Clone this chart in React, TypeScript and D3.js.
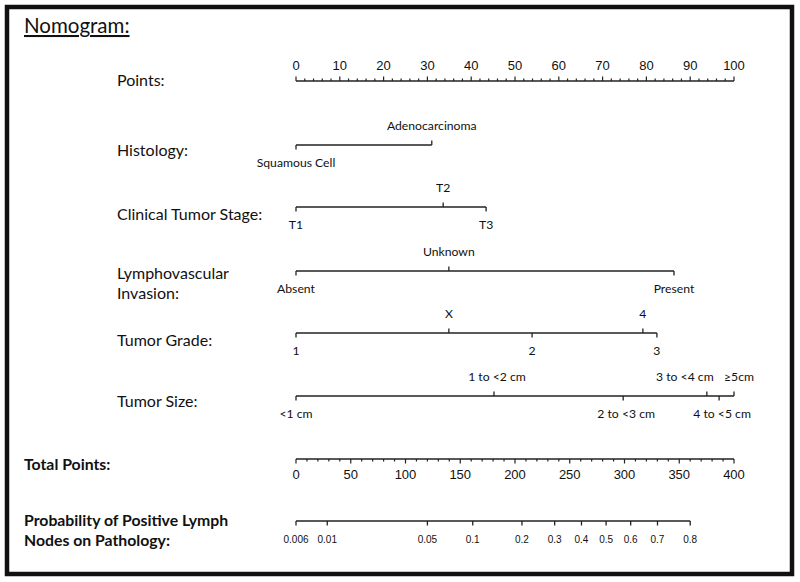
import * as d3 from "d3";
import { useRef, useEffect } from "react";

// points axis
const pointTicks = d3.range(0, 101, 10);
const pointMinor = d3.range(0, 101, 2);

// variables: levels, points, label side (1 = above, -1 = below)
const histLevels = ["Squamous Cell", "Adenocarcinoma"];
const histPoints = [0, 31];
const histSide = [-1, 1];

const stageLevels = ["T1", "T2", "T3"];
const stagePoints = [0, 33.6, 43.4];
const stageSide = [-1, 1, -1];

const lviLevels = ["Absent", "Unknown", "Present"];
const lviPoints = [0, 34.9, 86.3];
const lviSide = [-1, 1, -1];

const gradeLevels = ["1", "X", "2", "4", "3"];
const gradePoints = [0, 34.9, 53.9, 79.2, 82.4];
const gradeSide = [-1, 1, -1, 1, -1];

const sizeLevels = ["<1 cm", "1 to <2 cm", "2 to <3 cm", "3 to <4 cm", "4 to <5 cm", "≥5cm"];
const sizePoints = [0, 45.2, 74.7, 93.8, 96.6, 100];
const sizeSide = [-1, 1, -1, 1, -1, 1];

// total points + probability
const totalTicks = d3.range(0, 401, 50);
const totalMinor = d3.range(0, 401, 10);
const probTicks = [0.006, 0.01, 0.05, 0.1, 0.2, 0.3, 0.4, 0.5, 0.6, 0.7, 0.8];
const probTotalAtEnds = [0, 360];

const W = 800;
const H = 582;
const calibri = "Lato, 'Open Sans', sans-serif";
const arial = "'Liberation Sans', Arial, sans-serif";

// small nudges so crowded labels don't overlap
const labelNudge: Record<string, number> = {
  "3 to <4 cm": -22,
  "≥5cm": 5,
  "4 to <5 cm": 3,
  "2 to <3 cm": 3,
  "1 to <2 cm": 3,
};

export default function App() {
  const svgRef = useRef(null);

  useEffect(() => {
    const svg = d3.select(svgRef.current);
    svg.selectAll("*").remove();

    const x = d3.scaleLinear().domain([0, 100]).range([296, 734]);
    const xTotal = d3.scaleLinear().domain([0, 400]).range([296, 734]);
    const logit = (p: number) => Math.log(p / (1 - p));
    const xProb = d3
      .scaleLinear()
      .domain([logit(0.006), logit(0.8)])
      .range(probTotalAtEnds.map((t) => xTotal(t)));

    svg
      .append("rect")
      .attr("x", 7)
      .attr("y", 7)
      .attr("width", 785)
      .attr("height", 567)
      .attr("fill", "white")
      .attr("stroke", "#111")
      .attr("stroke-width", 4.5);

    svg
      .append("text")
      .attr("x", 24)
      .attr("y", 33)
      .attr("font-family", calibri)
      .attr("font-size", 20.5)
      .attr("text-decoration", "underline")
      .attr("fill", "#111")
      .text("Nomogram:");

    const ink = "#222";

    function rowLabel(lines: string[], y: number, x0: number, bold: boolean, size: number) {
      lines.forEach((l, i) => {
        svg
          .append("text")
          .attr("x", x0)
          .attr("y", y + i * 20)
          .attr("font-family", calibri)
          .attr("font-size", size)
          .attr("font-weight", bold ? "bold" : "normal")
          .attr("fill", "#111")
          .attr("dominant-baseline", "middle")
          .text(l);
      });
    }

    // Points
    const yPts = 81;
    rowLabel(["Points:"], 82, 117, false, 16);
    svg.append("line").attr("x1", x(0)).attr("x2", x(100)).attr("y1", yPts).attr("y2", yPts).attr("stroke", ink).attr("stroke-width", 1.3);
    svg
      .selectAll(".pmin")
      .data(pointMinor)
      .enter()
      .append("line")
      .attr("x1", (d) => x(d))
      .attr("x2", (d) => x(d))
      .attr("y1", yPts)
      .attr("y2", (d) => (d % 10 === 0 ? yPts - 4.5 : yPts - 2.5))
      .attr("stroke", ink)
      .attr("stroke-width", 1.2);
    svg
      .selectAll(".plab")
      .data(pointTicks)
      .enter()
      .append("text")
      .attr("x", (d) => x(d))
      .attr("y", yPts - 14)
      .attr("text-anchor", "middle")
      .attr("dominant-baseline", "middle")
      .attr("font-family", arial)
      .attr("font-size", 13)
      .attr("fill", "#111")
      .text((d) => d);

    // factor rows
    function factorRow(levels: string[], pts: number[], side: number[], y: number) {
      svg.append("line").attr("x1", x(d3.min(pts)!)).attr("x2", x(d3.max(pts)!)).attr("y1", y).attr("y2", y).attr("stroke", ink).attr("stroke-width", 1.3);
      levels.forEach((lev, i) => {
        const px = x(pts[i]);
        svg
          .append("line")
          .attr("x1", px)
          .attr("x2", px)
          .attr("y1", y)
          .attr("y2", y - side[i] * 4.5)
          .attr("stroke", ink)
          .attr("stroke-width", 1.3);
        svg
          .append("text")
          .attr("x", px + (labelNudge[lev] ?? 0))
          .attr("y", side[i] > 0 ? y - 18 : y + 19)
          .attr("text-anchor", "middle")
          .attr("dominant-baseline", "middle")
          .attr("font-family", calibri)
          .attr("font-size", 12.2)
          .attr("fill", "#111")
          .text(lev);
      });
    }

    rowLabel(["Histology:"], 152, 117, false, 16);
    factorRow(histLevels, histPoints, histSide, 145);
    rowLabel(["Clinical Tumor Stage:"], 216, 117, false, 16);
    factorRow(stageLevels, stagePoints, stageSide, 207);
    rowLabel(["Lymphovascular", "Invasion:"], 275, 117, false, 16);
    factorRow(lviLevels, lviPoints, lviSide, 271);
    rowLabel(["Tumor Grade:"], 342, 117, false, 16);
    factorRow(gradeLevels, gradePoints, gradeSide, 333);
    rowLabel(["Tumor Size:"], 403, 117, false, 16);
    factorRow(sizeLevels, sizePoints, sizeSide, 396);

    // Total points
    const yTot = 459;
    rowLabel(["Total Points:"], 466, 24, true, 15.8);
    svg.append("line").attr("x1", xTotal(0)).attr("x2", xTotal(400)).attr("y1", yTot).attr("y2", yTot).attr("stroke", ink).attr("stroke-width", 1.3);
    svg
      .selectAll(".tmin")
      .data(totalMinor)
      .enter()
      .append("line")
      .attr("x1", (d) => xTotal(d))
      .attr("x2", (d) => xTotal(d))
      .attr("y1", yTot)
      .attr("y2", (d) => (d % 50 === 0 ? yTot + 4.5 : yTot + 2.5))
      .attr("stroke", ink)
      .attr("stroke-width", 1.2);
    svg
      .selectAll(".tlab")
      .data(totalTicks)
      .enter()
      .append("text")
      .attr("x", (d) => xTotal(d))
      .attr("y", yTot + 17)
      .attr("text-anchor", "middle")
      .attr("dominant-baseline", "middle")
      .attr("font-family", arial)
      .attr("font-size", 13)
      .attr("fill", "#111")
      .text((d) => d);

    // Probability
    const yProb = 521;
    rowLabel(["Probability of Positive Lymph", "Nodes on Pathology:"], 522, 24, true, 15.8);
    svg
      .append("line")
      .attr("x1", xProb(logit(probTicks[0])))
      .attr("x2", xProb(logit(probTicks[probTicks.length - 1])))
      .attr("y1", yProb)
      .attr("y2", yProb)
      .attr("stroke", ink)
      .attr("stroke-width", 1.3);
    svg
      .selectAll(".prt")
      .data(probTicks)
      .enter()
      .append("line")
      .attr("x1", (d) => xProb(logit(d)))
      .attr("x2", (d) => xProb(logit(d)))
      .attr("y1", yProb)
      .attr("y2", yProb + 4.5)
      .attr("stroke", ink)
      .attr("stroke-width", 1.3);
    svg
      .selectAll(".prl")
      .data(probTicks)
      .enter()
      .append("text")
      .attr("x", (d) => xProb(logit(d)))
      .attr("y", yProb + 19)
      .attr("text-anchor", "middle")
      .attr("dominant-baseline", "middle")
      .attr("font-family", arial)
      .attr("font-size", 10)
      .attr("fill", "#111")
      .text((d) => String(d));
  }, []);

  return (
    <svg
      ref={svgRef}
      width={W}
      height={H}
      style={{ position: "absolute", left: 0, top: 0, background: "white" }}
    />
  );
}
